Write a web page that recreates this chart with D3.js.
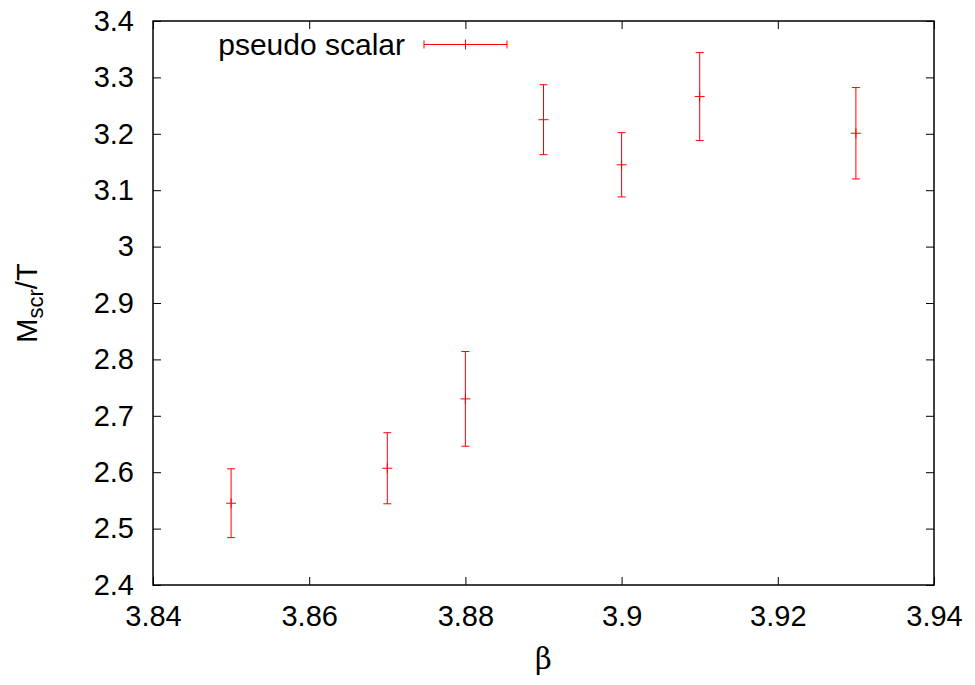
<!DOCTYPE html>
<html>
<head>
<meta charset="utf-8">
<script src="https://cdn.jsdelivr.net/npm/d3@7"></script>
<style>
  html, body { margin: 0; padding: 0; background: #fff; }
  svg { display: block; font-family: "Liberation Sans", Arial, sans-serif; }
</style>
</head>
<body>
<svg id="chart" width="975" height="685"></svg>
<script>
// Screening mass of the pseudo scalar channel vs beta
const betas  = [3.85, 3.87, 3.88, 3.89, 3.90, 3.91, 3.93];
const masses = [2.545, 2.607, 2.730, 3.225, 3.145, 3.266, 3.201];
const errors = [0.061, 0.063, 0.084, 0.062, 0.057, 0.078, 0.081];
const xTicks = [3.84, 3.86, 3.88, 3.90, 3.92, 3.94];
const yTicks = [2.4, 2.5, 2.6, 2.7, 2.8, 2.9, 3.0, 3.1, 3.2, 3.3, 3.4];
const seriesName = "pseudo scalar";

const margin = { left: 153, right: 41, top: 21, bottom: 100 };
const W = 975, H = 685;
const svg = d3.select("#chart");

const x = d3.scaleLinear().domain([3.84, 3.94]).range([margin.left, W - margin.right]);
const y = d3.scaleLinear().domain([2.4, 3.4]).range([H - margin.bottom, margin.top]);

const fontSize = 29;
const tickLen = 8;
const red = "#ff0000";

// Axes with inward ticks on all four sides
const fmt = d => d3.format("")(+d.toFixed(2));
const bottomAxis = d3.axisBottom(x).tickValues(xTicks).tickSizeInner(-tickLen).tickSizeOuter(0).tickPadding(20).tickFormat(fmt);
const topAxis = d3.axisTop(x).tickValues(xTicks).tickSizeInner(-tickLen).tickSizeOuter(0).tickFormat("");
const leftAxis = d3.axisLeft(y).tickValues(yTicks).tickSizeInner(-tickLen).tickSizeOuter(0).tickPadding(19).tickFormat(fmt);
const rightAxis = d3.axisRight(y).tickValues(yTicks).tickSizeInner(-tickLen).tickSizeOuter(0).tickFormat("");

function styleAxis(g) {
  g.select(".domain").remove();
  g.selectAll(".tick line").attr("stroke", "#000").attr("stroke-width", 1);
  g.selectAll(".tick text").attr("fill", "#000").attr("font-size", fontSize)
    .attr("font-family", "'Liberation Sans', Arial, sans-serif");
}

svg.append("g").attr("transform", `translate(0,${y(2.4)})`).call(bottomAxis).call(styleAxis);
svg.append("g").attr("transform", `translate(0,${y(3.4)})`).call(topAxis).call(styleAxis);
svg.append("g").attr("transform", `translate(${x(3.84)},0)`).call(leftAxis).call(styleAxis);
svg.append("g").attr("transform", `translate(${x(3.94)},0)`).call(rightAxis).call(styleAxis);

// Frame
svg.append("rect")
  .attr("x", x(3.84)).attr("y", y(3.4))
  .attr("width", x(3.94) - x(3.84)).attr("height", y(2.4) - y(3.4))
  .attr("fill", "none").attr("stroke", "#000").attr("stroke-width", 1.5);

// Axis titles
svg.append("text")
  .attr("x", (x(3.84) + x(3.94)) / 2).attr("y", 669)
  .attr("text-anchor", "middle").attr("font-size", fontSize)
  .attr("font-family", "'DejaVu Serif', 'Liberation Serif', serif")
  .text("β");

const yl = svg.append("text")
  .attr("transform", `translate(37,${(y(2.4) + y(3.4)) / 2}) rotate(-90)`)
  .attr("text-anchor", "middle").attr("font-size", fontSize);
yl.append("tspan").text("M");
yl.append("tspan").attr("font-size", 22).attr("dy", 6).text("scr");
yl.append("tspan").attr("dy", -6).text("/T");

// Error bars
const capHalf = 4, markHalf = 5;
const data = betas.map((b, i) => ({ b, m: masses[i], e: errors[i] }));
const bars = svg.append("g").attr("stroke", red).attr("stroke-width", 1).attr("fill", "none");
const gp = bars.selectAll("g").data(data).join("g");
gp.append("line")
  .attr("x1", d => x(d.b)).attr("x2", d => x(d.b))
  .attr("y1", d => y(d.m - d.e)).attr("y2", d => y(d.m + d.e));
gp.append("line")
  .attr("x1", d => x(d.b) - capHalf).attr("x2", d => x(d.b) + capHalf)
  .attr("y1", d => y(d.m + d.e)).attr("y2", d => y(d.m + d.e));
gp.append("line")
  .attr("x1", d => x(d.b) - capHalf).attr("x2", d => x(d.b) + capHalf)
  .attr("y1", d => y(d.m - d.e)).attr("y2", d => y(d.m - d.e));
gp.append("line")
  .attr("x1", d => x(d.b) - markHalf).attr("x2", d => x(d.b) + markHalf)
  .attr("y1", d => y(d.m)).attr("y2", d => y(d.m));
gp.append("line")
  .attr("x1", d => x(d.b)).attr("x2", d => x(d.b))
  .attr("y1", d => y(d.m) - markHalf).attr("y2", d => y(d.m) + markHalf);

// Legend
const lx1 = 424, lx2 = 507, ly = 44.5, lc = (lx1 + lx2) / 2;
svg.append("text")
  .attr("x", 405).attr("y", ly + 10)
  .attr("text-anchor", "end").attr("font-size", 30).attr("fill", "#000")
  .text(seriesName);
const lg = svg.append("g").attr("stroke", red).attr("stroke-width", 1);
lg.append("line").attr("x1", lx1).attr("x2", lx2).attr("y1", ly).attr("y2", ly);
lg.append("line").attr("x1", lx1).attr("x2", lx1).attr("y1", ly - capHalf).attr("y2", ly + capHalf);
lg.append("line").attr("x1", lx2).attr("x2", lx2).attr("y1", ly - capHalf).attr("y2", ly + capHalf);
lg.append("line").attr("x1", lc).attr("x2", lc).attr("y1", ly - markHalf).attr("y2", ly + markHalf);
</script>
</body>
</html>
